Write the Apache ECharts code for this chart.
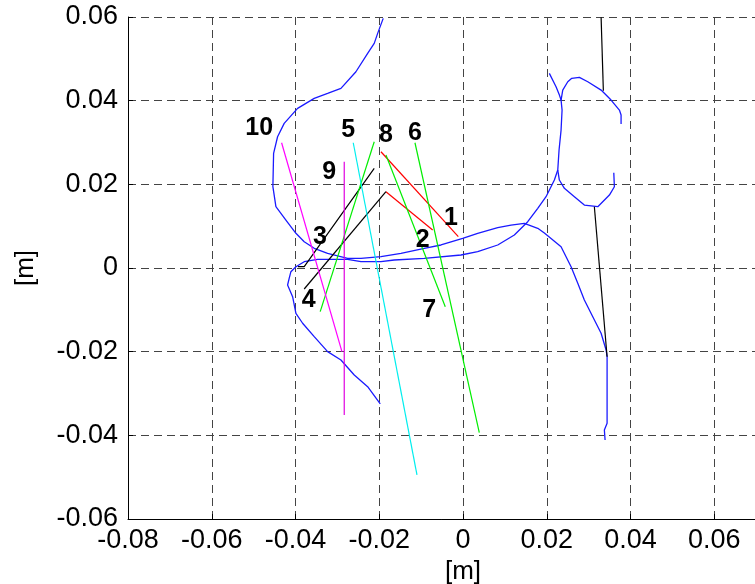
<!DOCTYPE html>
<html>
<head>
<meta charset="utf-8">
<script src="https://cdn.jsdelivr.net/npm/echarts@6/dist/echarts.min.js"></script>
<style>html,body{margin:0;padding:0;background:#fff}#c{width:755px;height:584px}</style>
</head>
<body>
<div id="c"></div>
<script>
// ---- data (metres) ----
const xTicks = [-0.08,-0.06,-0.04,-0.02,0,0.02,0.04,0.06,0.08];
const yTicks = [-0.06,-0.04,-0.02,0,0.02,0.04,0.06];

const curveUpper = [[-0.01905,0.05967],[-0.02038,0.05608],[-0.02120,0.05369],[-0.02277,0.05130],[-0.02557,0.04691],[-0.02915,0.04294],[-0.03233,0.04174],[-0.03553,0.04055],[-0.03950,0.03816],[-0.04270,0.03458],[-0.04428,0.03137],[-0.04523,0.02741],[-0.04540,0.01943],[-0.04468,0.01465],[-0.04229,0.01147],[-0.03990,0.00829],[-0.03792,0.00628],[-0.03553,0.00471],[-0.03233,0.00351],[-0.02755,0.00232],[-0.02437,0.00232],[-0.01959,0.00270],[-0.01481,0.00351],[-0.00925,0.00471],[-0.00526,0.00550],[-0.00007,0.00710],[0.00351,0.00829],[0.00829,0.00963],[0.01147,0.01027],[0.01465,0.01068],[0.01785,0.00949],[0.01943,0.00836],[0.02342,0.00509],[0.02581,0.00031],[0.02741,-0.00366],[0.02898,-0.00765],[0.03099,-0.01164],[0.03298,-0.01560],[0.03417,-0.01959],[0.03441,-0.02120],[0.03441,-0.03711],[0.03376,-0.03871],[0.03393,-0.04110]];

const curveLower = [[-0.01976,-0.03250],[-0.02277,-0.02836],[-0.02597,-0.02557],[-0.02915,-0.02198],[-0.03233,-0.02000],[-0.03553,-0.01642],[-0.03830,-0.01321],[-0.03990,-0.01082],[-0.04069,-0.00686],[-0.04189,-0.00406],[-0.04151,-0.00246],[-0.04110,-0.00088],[-0.03990,0.00031],[-0.03792,0.00151],[-0.03472,0.00208],[-0.02755,0.00208],[-0.02437,0.00151],[-0.01959,0.00151],[-0.01642,0.00191],[-0.00925,0.00232],[-0.00048,0.00311],[0.00351,0.00390],[0.00829,0.00550],[0.01226,0.00789],[0.01546,0.01106],[0.01785,0.01427],[0.01983,0.01704],[0.02182,0.02103],[0.02263,0.02342],[0.02294,0.02820],[0.02342,0.03297],[0.02366,0.03775],[0.02342,0.04014],[0.02302,0.04133],[0.02222,0.04332],[0.02062,0.04652]];

const curveHookBottom = [[0.02263,0.02342],[0.02301,0.02103],[0.02421,0.01904],[0.02660,0.01704],[0.02898,0.01505],[0.03219,0.01465],[0.03496,0.01744],[0.03615,0.01943],[0.03601,0.02277]];

const curveHookTop = [[0.02342,0.04014],[0.02382,0.04253],[0.02502,0.04452],[0.02597,0.04533],[0.02779,0.04557],[0.02980,0.04452],[0.03298,0.04253],[0.03536,0.04014],[0.03735,0.03775],[0.03775,0.03657],[0.03775,0.03441]];

const seg1 = [[-0.01959,0.02779],[-0.00112,0.00748]];
const seg2 = [[-0.01840,0.01823],[-0.00724,0.00908]];
const seg3 = [[-0.02120,0.02382],[-0.03792,0.00031],[-0.03943,0.00031]];
const seg4 = [[-0.01840,0.01823],[-0.03792,-0.00502]];
const segGreenA = [[-0.02120,0.03018],[-0.03410,-0.01044]];
const segGreenB = [[-0.01840,0.02700],[-0.00423,-0.00925]];
const seg6 = [[-0.01147,0.02994],[0.00389,-0.03936]];
const seg5 = [[-0.02621,0.02994],[-0.01099,-0.04946]];
const seg10 = [[-0.04332,0.02994],[-0.02891,-0.02000]];
const seg9 = [[-0.02836,0.02540],[-0.02836,-0.03513]];
const segRightTop = [[0.03298,0.05991],[0.03352,0.04237]];
const segRightBottom = [[0.03137,0.01465],[0.03441,-0.02120]];

const labelText = ['10','5','8','6','9','1','3','2','4','7'];
const labelX = [-0.04867,-0.02741,-0.01840,-0.01147,-0.03195,-0.00287,-0.03417,-0.00963,-0.03687,-0.00805];
const labelY = [0.03338,0.03297,0.03178,0.03219,0.02301,0.01188,0.00741,0.00669,-0.00765,-0.01004];

// ---- chart ----
const chart = echarts.init(document.getElementById('c'), null, {renderer:'canvas'});
const FONT = 'Liberation Sans, Arial, sans-serif';
function line(data, color, w){
  return {type:'line', data:data, showSymbol:false, symbol:'none', silent:true,
    lineStyle:{color:color, width:w||1.2}, z:3, clip:true};
}
function fmt(v){
  if (Math.abs(v) < 1e-9) return '0';
  return v.toFixed(2);
}
const series = [
  line(curveUpper,'#1a1aff',1.3),
  line(curveLower,'#1a1aff',1.3),
  line(curveHookBottom,'#1a1aff',1.3),
  line(curveHookTop,'#1a1aff',1.3),
  line(seg1,'#ff0000'),
  line(seg2,'#ff0000'),
  line(seg3,'#000000'),
  line(seg4,'#000000'),
  line(segGreenA,'#00ee00'),
  line(segGreenB,'#00ee00'),
  line(seg6,'#00ee00'),
  line(seg5,'#00eeee'),
  line(seg10,'#ff00ff'),
  line(seg9,'#e000e0'),
  line(segRightTop,'#000000'),
  line(segRightBottom,'#000000'),
  {type:'scatter', symbolSize:0, itemStyle:{color:'#000', opacity:1}, silent:true, z:5,
   data: labelText.map((t,i)=>({name:t, value:[labelX[i], labelY[i]]})),
   label:{show:true, position:'inside', formatter:p=>p.name, color:'#000', opacity:1,
     textBorderWidth:0, textBorderColor:'transparent',
     fontSize:25, fontWeight:'bold', fontFamily:'Liberation Sans, Arial, sans-serif'}}
];

chart.setOption({
  animation:false,
  backgroundColor:'#fff',
  grid:{left:128, right:-43, top:17, bottom:65, containLabel:false, outerBoundsMode:'none'},
  xAxis:{type:'value', min:xTicks[0], max:xTicks[xTicks.length-1], interval:0.02,
    name:'[m]', nameLocation:'middle', nameGap:36,
    nameTextStyle:{fontSize:26, fontFamily:FONT, color:'#000'},
    axisLine:{show:true, onZero:false, lineStyle:{color:'#000', width:1}},
    axisTick:{show:true, inside:true, length:5, lineStyle:{color:'#000'}},
    axisLabel:{fontSize:27, fontFamily:FONT, color:'#000', margin:8, formatter:fmt},
    splitLine:{show:true, lineStyle:{type:[8,5], color:'#444', width:1}}
  },
  yAxis:{type:'value', min:yTicks[0], max:yTicks[yTicks.length-1], interval:0.02,
    name:'[m]', nameLocation:'middle', nameGap:89, nameRotate:90,
    nameTextStyle:{fontSize:26, fontFamily:FONT, color:'#000'},
    axisLine:{show:true, onZero:false, lineStyle:{color:'#000', width:1}},
    axisTick:{show:true, inside:true, length:5, lineStyle:{color:'#000'}},
    axisLabel:{fontSize:27, fontFamily:FONT, color:'#000', margin:10, formatter:fmt},
    splitLine:{show:true, lineStyle:{type:[8,5], color:'#444', width:1}}
  },
  series:series
});
</script>
</body>
</html>
